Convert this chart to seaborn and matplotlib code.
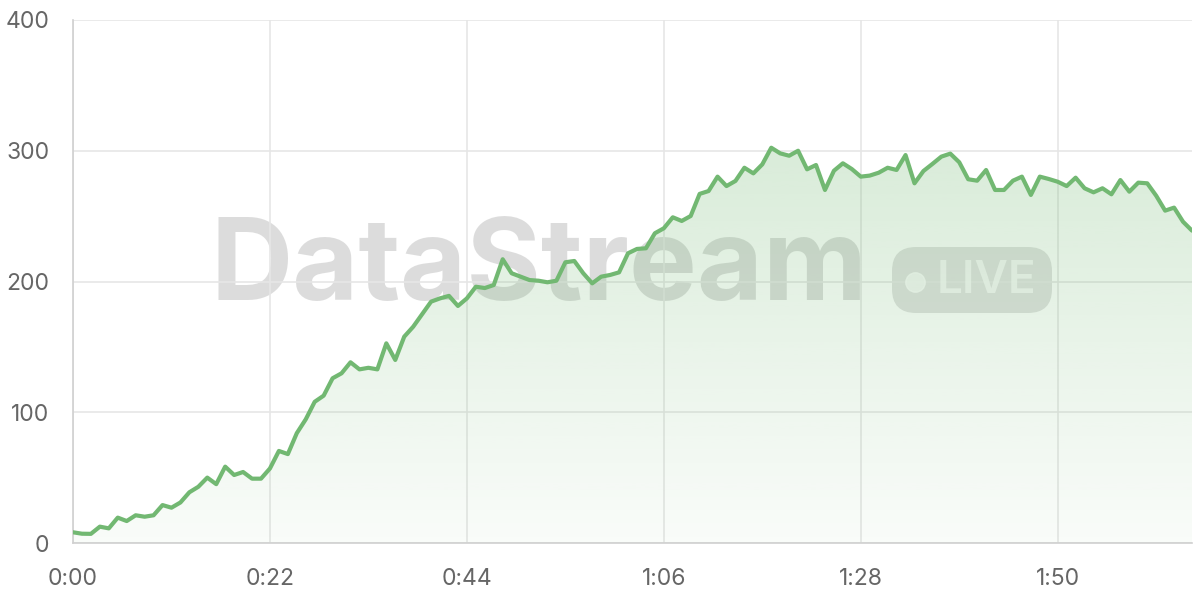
import numpy as np
import pandas as pd
import matplotlib
matplotlib.use("Agg")
import matplotlib.pyplot as plt
from matplotlib.patches import FancyBboxPatch
import seaborn as sns

# ---------------------------------------------------------------
# data: one sample per second
# ---------------------------------------------------------------
seconds = list(range(126))
values = [
    8.2, 7.1, 7.0, 12.5, 11.2, 19.4, 16.8, 21.2, 20.1, 21.2,
    29.0, 27.0, 31.0, 38.8, 43.0, 50.0, 45.0, 58.4, 52.0, 54.3,
    49.2, 49.2, 57.0, 70.4, 68.0, 84.0, 94.6, 108.0, 112.7, 126.0,
    129.8, 138.2, 132.8, 134.0, 132.8, 152.7, 140.0, 157.8, 165.4, 175.0,
    184.6, 187.1, 189.0, 181.3, 187.1, 196.0, 195.0, 197.3, 217.0, 206.3,
    203.7, 201.1, 200.6, 199.4, 200.6, 214.7, 215.7, 206.3, 198.6, 203.7,
    205.0, 207.0, 221.6, 224.9, 225.4, 236.9, 240.7, 249.1, 246.3, 250.1,
    267.0, 269.2, 280.2, 273.0, 276.9, 287.0, 282.7, 289.6, 302.3, 298.0,
    296.2, 300.0, 285.8, 289.1, 270.0, 284.7, 290.4, 286.0, 280.2, 281.0,
    283.2, 287.0, 285.3, 296.7, 275.1, 284.5, 289.9, 295.5, 297.8, 291.2,
    278.2, 277.1, 285.3, 270.0, 270.0, 277.1, 280.2, 266.2, 280.2, 278.4,
    276.3, 273.0, 279.4, 271.3, 268.2, 271.3, 266.7, 277.6, 268.7, 275.6,
    275.1, 265.6, 254.2, 256.5, 245.7, 238.9,
]
x_ticks = [0, 22, 44, 66, 88, 110]
x_tick_labels = ["0:00", "0:22", "0:44", "1:06", "1:28", "1:50"]
y_ticks = [0, 100, 200, 300, 400]

LINE = "#72b872"
GRID = "#e6e6e6"
TEXT = "#666666"

sns.set_theme(style="white")
plt.rcParams["font.family"] = ["Inter", "DejaVu Sans"]

df = pd.DataFrame({"t": seconds, "v": values})

fig = plt.figure(figsize=(12, 6), dpi=100)
ax = fig.add_axes([73 / 1200, 57 / 600, 1119 / 1200, 523 / 600])

# watermark
ax.text(211 / 1200, 1 - 270 / 600, "DataStream", transform=fig.transFigure,
        fontsize=82, fontweight="bold", color="#777777", alpha=0.25,
        ha="left", va="center", zorder=0.5)
badge = FancyBboxPatch((892 / 1200, 1 - 313 / 600), 160 / 1200, 66 / 600,
                       boxstyle="round,pad=0,rounding_size=0.02",
                       transform=fig.transFigure, facecolor="#777777",
                       alpha=0.22, edgecolor="none", zorder=0.5,
                       mutation_aspect=2)
ax.add_patch(badge)
ax.plot([915 / 1200], [1 - 282 / 600], marker="o", markersize=14, color="white",
        alpha=0.7, transform=fig.transFigure, zorder=0.6, clip_on=False)
ax.text(937 / 1200, 1 - 281 / 600, "LIVE", transform=fig.transFigure,
        fontsize=33, fontweight="semibold", color="white", alpha=0.7,
        ha="left", va="center", zorder=0.6)

# gradient fill under the line
poly = ax.fill_between(df["t"], df["v"], 0, color="none", zorder=1)
ymax = max(values)
grad = np.linspace(0.04, 0.27, 256).reshape(-1, 1)
rgba = np.zeros((256, 1, 4))
rgba[..., 0] = 0x72 / 255
rgba[..., 1] = 0xb8 / 255
rgba[..., 2] = 0x72 / 255
rgba[..., 3] = grad
img = ax.imshow(rgba, extent=[0, 125, 0, ymax], origin="lower", aspect="auto", zorder=1)
img.set_clip_path(poly.get_paths()[0], transform=ax.transData)

sns.lineplot(data=df, x="t", y="v", ax=ax, color=LINE, linewidth=3, zorder=3)

ax.set_xlim(0, 125)
ax.set_ylim(0, 400)
ax.set_xticks(x_ticks)
ax.set_xticklabels(x_tick_labels)
ax.set_yticks(y_ticks)
ax.set_xlabel("")
ax.set_ylabel("")
ax.grid(True, color=GRID, linewidth=1.2, zorder=0)
ax.set_axisbelow(True)
ax.tick_params(axis="both", colors=GRID, length=11, width=1.2, labelcolor=TEXT, labelsize=16.5)
ax.tick_params(axis="x", pad=7)
ax.tick_params(axis="y", pad=6)
for side in ["top", "right"]:
    ax.spines[side].set_visible(False)
for side in ["left", "bottom"]:
    ax.spines[side].set_color("#d0d0d0")
    ax.spines[side].set_linewidth(1.2)

fig.savefig("out.png", dpi=100)
